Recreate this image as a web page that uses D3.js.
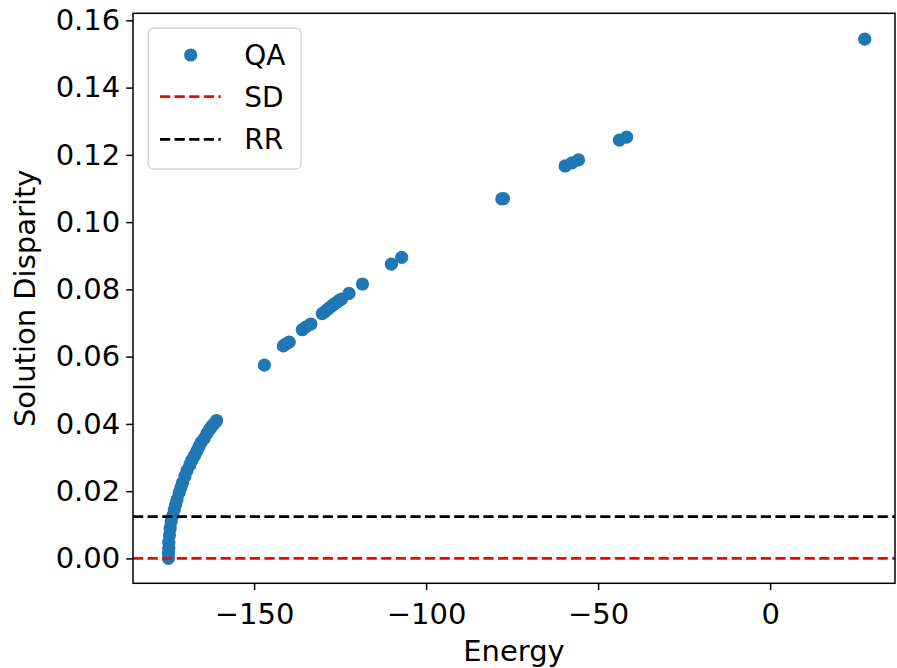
<!DOCTYPE html>
<html>
<head>
<meta charset="utf-8">
<script src="https://cdn.jsdelivr.net/npm/d3@7"></script>
<style>
  body { margin: 0; background: #fff; }
  text { font-family: "DejaVu Sans", sans-serif; }
</style>
</head>
<body>
<div id="chart"></div>
<script>
// QA samples: energy vs. solution disparity
var energy = [
  -174.9, -174.9, -174.8, -174.8, -174.6, -174.4, -174.1, -173.6, -173.2, -172.8,
  -172.4, -171.8, -171.3, -170.8, -170.1, -169.5, -168.7, -168.1, -167.3, -166.6,
  -166.0, -165.4, -164.5, -163.7, -162.9, -162.3, -161.5, -160.9,
  -147.0, -141.5, -140.8, -139.8, -136.0, -135.0, -133.5,
  -130.2, -129.4, -128.6, -127.8, -127.0, -126.2, -125.3, -124.6,
  -122.4, -118.5, -110.1, -107.1, -78.0, -77.5,
  -59.6, -57.6, -55.7, -43.8, -41.7, 27.5
];
var disparity = [
  0.0000, 0.0015, 0.0030, 0.0048, 0.0070, 0.0090, 0.0110, 0.0128, 0.0145, 0.0160,
  0.0175, 0.0195, 0.0210, 0.0225, 0.0245, 0.0262, 0.0278, 0.0292, 0.0306, 0.0320,
  0.0333, 0.0345, 0.0357, 0.0372, 0.0384, 0.0393, 0.0402, 0.0410,
  0.0575, 0.0632, 0.0637, 0.0643, 0.0680, 0.0688, 0.0697,
  0.0728, 0.0734, 0.0741, 0.0748, 0.0754, 0.0760, 0.0767, 0.0771,
  0.0788, 0.0816, 0.0875, 0.0895, 0.1069, 0.1070,
  0.1167, 0.1176, 0.1185, 0.1244, 0.1253, 0.1544
];
var sdLevel = 0.0;
var rrLevel = 0.0124;
var xTicks = [-150, -100, -50, 0];
var yTicks = [0, 0.02, 0.04, 0.06, 0.08, 0.10, 0.12, 0.14, 0.16];
var legendNames = ["QA", "SD", "RR"];

var W = 897, H = 668;
var margin = {top: 13.3, right: 2, bottom: 84.7, left: 133},
    width = W - margin.left - margin.right,
    height = H - margin.top - margin.bottom;

var svg = d3.select("#chart").append("svg")
    .attr("width", W)
    .attr("height", H);
var g = svg.append("g")
    .attr("transform", "translate(" + margin.left + "," + margin.top + ")");

var x = d3.scaleLinear().domain([-185.2, 36.3]).range([0, width]);
var y = d3.scaleLinear().domain([-0.0074, 0.1621]).range([height, 0]);

var dash = "10.2,4.4";

// scatter
var pts = energy.map(function(e, i) { return {e: e, d: disparity[i]}; });
g.selectAll(".pt")
    .data(pts)
  .enter().append("circle")
    .attr("class", "pt")
    .attr("cx", function(d) { return x(d.e); })
    .attr("cy", function(d) { return y(d.d); })
    .attr("r", 6.6)
    .style("fill", "#1f77b4");

// reference lines
g.append("line")
    .attr("x1", 0).attr("x2", width)
    .attr("y1", y(sdLevel)).attr("y2", y(sdLevel))
    .attr("stroke", "#ff0000").attr("stroke-width", 2.7)
    .attr("stroke-dasharray", dash);
g.append("line")
    .attr("x1", 0).attr("x2", width)
    .attr("y1", y(rrLevel)).attr("y2", y(rrLevel))
    .attr("stroke", "#000").attr("stroke-width", 2.7)
    .attr("stroke-dasharray", dash);

// axes
var xAxis = g.append("g")
    .attr("transform", "translate(0," + height + ")")
    .call(d3.axisBottom(x).tickValues(xTicks).tickSize(6.8).tickPadding(6).tickSizeOuter(0));
var yAxis = g.append("g")
    .call(d3.axisLeft(y).tickValues(yTicks).tickFormat(d3.format(".2f")).tickSize(6.8).tickPadding(6).tickSizeOuter(0));

[xAxis, yAxis].forEach(function(a) {
  a.select(".domain").remove();
  a.selectAll("line").attr("stroke", "#000").attr("stroke-width", 1.5);
  a.selectAll("text")
    .attr("fill", "#000")
    .style("font-size", "29px")
    .style("font-family", "DejaVu Sans");
});
xAxis.selectAll("text").attr("dy", "0.95em");

// frame
g.append("rect")
    .attr("width", width).attr("height", height)
    .attr("fill", "none").attr("stroke", "#000").attr("stroke-width", 1.5);

// axis labels
svg.append("text")
    .attr("x", margin.left + width / 2)
    .attr("y", 661)
    .attr("text-anchor", "middle")
    .style("font-size", "29px")
    .text("Energy");
svg.append("text")
    .attr("transform", "translate(35," + (margin.top + height / 2) + ") rotate(-90)")
    .attr("text-anchor", "middle")
    .style("font-size", "29px")
    .text("Solution Disparity");

// legend
var leg = svg.append("g").attr("transform", "translate(148.3,28.3)");
leg.append("rect")
    .attr("width", 152.7).attr("height", 140.7)
    .attr("rx", 5).attr("ry", 5)
    .attr("fill", "#fff").attr("fill-opacity", 0.8)
    .attr("stroke", "#d6d6d6").attr("stroke-width", 1.5);
var rows = [26.7, 68.4, 111];
leg.append("circle")
    .attr("cx", 42.4).attr("cy", rows[0]).attr("r", 6.6)
    .style("fill", "#1f77b4");
leg.append("line")
    .attr("x1", 11.7).attr("x2", 72.4).attr("y1", rows[1]).attr("y2", rows[1])
    .attr("stroke", "#ff0000").attr("stroke-width", 2.7).attr("stroke-dasharray", dash);
leg.append("line")
    .attr("x1", 11.7).attr("x2", 72.4).attr("y1", rows[2]).attr("y2", rows[2])
    .attr("stroke", "#000").attr("stroke-width", 2.7).attr("stroke-dasharray", dash);
leg.selectAll(".lt")
    .data(legendNames)
  .enter().append("text")
    .attr("class", "lt")
    .attr("x", 96)
    .attr("y", function(d, i) { return rows[i]; })
    .attr("dy", "0.36em")
    .style("font-size", "28px")
    .text(function(d) { return d; });
</script>
</body>
</html>
